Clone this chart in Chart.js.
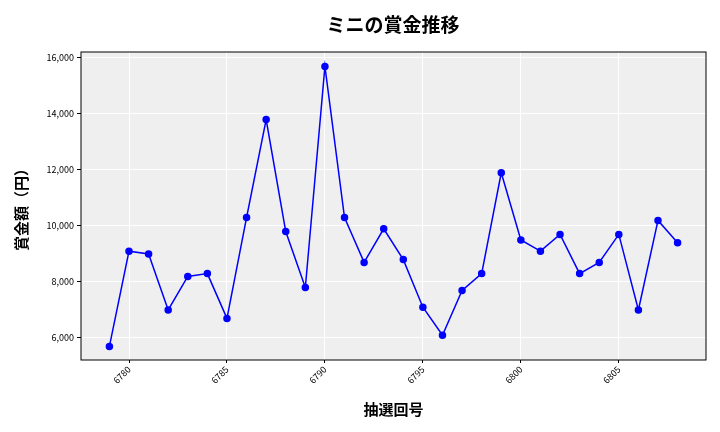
<!DOCTYPE html>
<html><head><meta charset="utf-8">
<script src="https://cdn.jsdelivr.net/npm/chart.js@4"></script>
<style>html,body{margin:0;padding:0;background:#fff}#w{width:720px;height:432px}</style>
</head><body><div id="w"><canvas id="c"></canvas></div>
<script>
const draws=[6779,6780,6781,6782,6783,6784,6785,6786,6787,6788,6789,6790,6791,6792,6793,6794,6795,6796,6797,6798,6799,6800,6801,6802,6803,6804,6805,6806,6807,6808];
const prizes=[5700,9100,9000,7000,8200,8300,6700,10300,13800,9800,7800,15700,10300,8700,9900,8800,7100,6100,7700,8300,11900,9500,9100,9700,8300,8700,9700,7000,10200,9400];
const xTicks=[6780,6785,6790,6795,6800,6805];
const yTicks=[6000,8000,10000,12000,14000,16000];
const chartTitle='ミニの賞金推移';
const F='"Noto Sans CJK JP", sans-serif';
const bg={id:'bg',beforeDraw(c){const a=c.chartArea,x=c.ctx;x.save();x.fillStyle='#efefef';x.fillRect(a.left,a.top,a.right-a.left,a.bottom-a.top);x.restore();},
afterDraw(c){const x=c.ctx,a=c.chartArea;x.save();x.strokeStyle='#000';x.lineWidth=1;x.strokeRect(a.left,a.top,a.right-a.left,a.bottom-a.top);
x.fillStyle='#000';x.font='bold 19px '+F;x.textAlign='center';x.textBaseline='middle';x.fillText(chartTitle,393,25);x.restore();}};
new Chart(document.getElementById('c'),{type:'line',
data:{datasets:[{data:draws.map((d,i)=>({x:d,y:prizes[i]})),borderColor:'#0000ff',backgroundColor:'#0000ff',borderWidth:1.5,pointRadius:3,pointHoverRadius:3,tension:0}]},
options:{responsive:true,maintainAspectRatio:false,animation:false,
layout:{padding:{top:52,right:14,left:0,bottom:0}},
plugins:{legend:{display:false},tooltip:{enabled:false}},
scales:{
x:{type:'linear',min:6777.55,max:6809.45,afterBuildTicks:s=>{s.ticks=xTicks.map(v=>({value:v}));},
afterFit:s=>{s.height=72;},border:{display:false},
grid:{color:'#ffffff',lineWidth:1,drawTicks:true,tickLength:3,tickColor:'#000'},
ticks:{color:'#000',font:{size:9,family:F},maxRotation:45,minRotation:45,padding:1,callback:v=>String(v)},
title:{display:true,text:'抽選回号',color:'#000',font:{size:15,weight:'bold',family:F},padding:{top:0,bottom:14}}},
y:{min:5214,max:16214,afterBuildTicks:s=>{s.ticks=yTicks.map(v=>({value:v}));},
afterFit:s=>{s.width=81;},border:{display:false},
grid:{color:'#ffffff',lineWidth:1,tickLength:4,tickColor:'#000'},
ticks:{color:'#000',font:{size:9,family:F},callback:v=>v.toLocaleString('en-US')},
title:{display:true,text:'賞金額（円）',color:'#000',font:{size:15,weight:'bold',family:F},padding:{top:12,bottom:2}}}}},
plugins:[bg]});
</script></body></html>
